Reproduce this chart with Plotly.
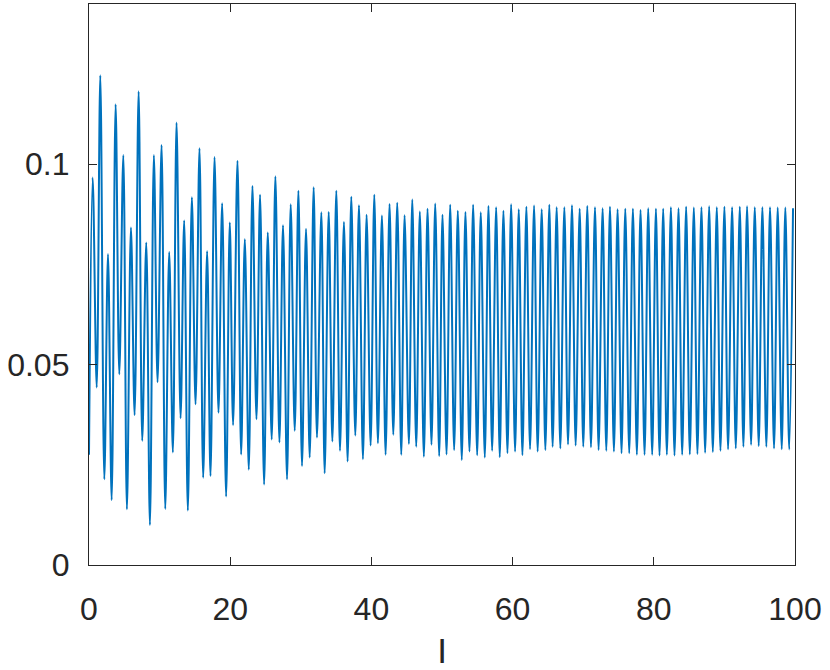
import plotly.graph_objects as go

# Local maxima of the signal (x position, value)
peak_x = [0.52, 1.6, 2.69, 3.77, 4.86, 5.94, 7.03, 8.11, 9.19, 10.28, 11.36, 12.4, 13.48, 14.57, 15.65, 16.73,
          17.78, 18.86, 19.94, 21.03, 22.07, 23.15, 24.23, 25.32, 26.4, 27.48, 28.57, 29.66, 30.74, 31.82, 32.91,
          33.95, 35.03, 36.11, 37.15, 38.24, 39.32, 40.41, 41.49, 42.57, 43.66, 44.7, 45.79, 46.86, 47.95, 49.04,
          50.07, 51.16, 52.24, 53.32, 54.41, 55.49, 56.58, 57.67, 58.70, 59.79, 60.87, 61.95, 63.04, 64.12, 65.2,
          66.24, 67.33, 68.41, 69.5, 70.58, 71.67, 72.75, 73.79, 74.87, 75.96, 77.04, 78.12, 79.21, 80.3,
          81.33, 82.42, 83.5, 84.58, 85.67, 86.75, 87.84, 88.92, 90.0, 91.09, 92.18, 93.21, 94.3, 95.38, 96.46,
          97.55, 98.63, 99.72]
peak_y = [0.0967, 0.1222, 0.0776, 0.1150, 0.1023, 0.0842, 0.1182, 0.0805, 0.1023, 0.1048, 0.0781, 0.1104, 0.0860, 0.0918, 0.1040, 0.0783,
          0.1018, 0.0903, 0.0855, 0.1009, 0.0813, 0.0946, 0.0924, 0.0830, 0.0970, 0.0848, 0.0900, 0.0934, 0.0839, 0.0943, 0.0880,
          0.0881, 0.0934, 0.0856, 0.0919, 0.0898, 0.0874, 0.0924, 0.0872, 0.0901, 0.0904, 0.0873, 0.0912, 0.0882, 0.0889, 0.0902,
          0.0874, 0.0899, 0.0884, 0.0881, 0.0899, 0.0880, 0.0896, 0.0893, 0.0884, 0.0900, 0.0888, 0.0894, 0.0897, 0.0888, 0.0899,
          0.0893, 0.0893, 0.0898, 0.0889, 0.0896, 0.0893, 0.0890, 0.0894, 0.0888, 0.0889, 0.0889, 0.0886, 0.0890, 0.0889,
          0.0889, 0.0893, 0.0890, 0.0894, 0.0892, 0.0893, 0.0895, 0.0893, 0.0894, 0.0893, 0.0894, 0.0895, 0.0893, 0.0893, 0.0893,
          0.0892, 0.0892, 0.0890]

# Local minima of the signal (first entry is the starting point)
trough_x = [0, 1.09, 2.17, 3.21, 4.29, 5.37, 6.46, 7.54, 8.63, 9.71, 10.8, 11.88, 12.97, 14.0, 15.09, 16.17,
            17.21, 18.34, 19.42, 20.41, 21.55, 22.63, 23.72, 24.8, 25.88, 26.97, 28.05, 29.14, 30.17, 31.26, 32.29, 33.38,
            34.47, 35.55, 36.63, 37.72, 38.8, 39.89, 40.92, 42.01, 43.1, 44.23, 45.31, 46.35, 47.43, 48.51, 49.6,
            50.64, 51.72, 52.8, 53.89, 54.98, 56.06, 57.1, 58.18, 59.27, 60.35, 61.39, 62.47, 63.55, 64.64,
            65.67, 66.76, 67.85, 68.93, 70.01, 71.1, 72.18, 73.27, 74.35, 75.43, 76.52, 77.6, 78.69, 79.77, 80.81,
            81.85, 82.93, 84.02, 85.1, 86.18, 87.27, 88.36, 89.44, 90.52, 91.61, 92.69, 93.78, 94.86, 95.94, 97.03,
            98.12, 99.18]
trough_y = [0.0275, 0.0443, 0.0214, 0.0162, 0.0476, 0.0139, 0.0374, 0.0310, 0.0100, 0.0456, 0.0140, 0.0281, 0.0366, 0.0136, 0.0401, 0.0218,
            0.0222, 0.0380, 0.0171, 0.0349, 0.0276, 0.0238, 0.0364, 0.0201, 0.0313, 0.0306, 0.0214, 0.0335, 0.0247, 0.0268, 0.0318, 0.0229,
            0.0308, 0.0285, 0.0258, 0.0323, 0.0264, 0.0298, 0.0304, 0.0275, 0.0325, 0.0275, 0.0302, 0.0295, 0.0270, 0.0300, 0.0272,
            0.0276, 0.0287, 0.0262, 0.0283, 0.0274, 0.0268, 0.0285, 0.0269, 0.0279, 0.0283, 0.0274, 0.0289, 0.0283, 0.0287,
            0.0295, 0.0291, 0.0301, 0.0298, 0.0295, 0.0294, 0.0287, 0.0285, 0.0283, 0.0279, 0.0279, 0.0275, 0.0275, 0.0275, 0.0273,
            0.0275, 0.0273, 0.0275, 0.0276, 0.0277, 0.0280, 0.0282, 0.0285, 0.0289, 0.0291, 0.0295, 0.0300, 0.0297, 0.0295, 0.0291,
            0.0289, 0.0288]

x_ticks = [0, 20, 40, 60, 80, 100]
y_ticks = [0, 0.05, 0.1]
y_ticktext = ["0", "0.05", "0.1"]
x_label = "I"

# Interleave minima and maxima into one ordered series
xs, ys = [], []
for tx, ty, px, py in zip(trough_x, trough_y, peak_x, peak_y):
    xs += [tx, px]
    ys += [ty, py]

AX = "#262626"
FONT = "Liberation Sans, Arial, Helvetica, sans-serif"

fig = go.Figure()
fig.add_trace(go.Scatter(
    x=xs, y=ys, mode="lines",
    line=dict(color="#0072BD", width=2, shape="spline", smoothing=1.0),
    showlegend=False, hoverinfo="skip",
))

axis_common = dict(
    showline=True, linecolor=AX, linewidth=1.3, mirror="ticks",
    ticks="inside", ticklen=8, tickwidth=1, tickcolor=AX,
    showgrid=False, zeroline=False, automargin=False,
    tickfont=dict(family=FONT, size=32, color=AX),
)

fig.update_xaxes(range=[0, 100], tickvals=x_ticks, ticktext=[str(v) for v in x_ticks],
                 ticklabelstandoff=15,
                 title=dict(text=x_label, font=dict(family=FONT, size=35, color=AX), standoff=13),
                 **axis_common)
fig.update_yaxes(range=[0, 0.14], tickvals=y_ticks, ticktext=y_ticktext,
                 ticklabelstandoff=12, **axis_common)

fig.update_layout(
    width=830, height=670,
    margin=dict(l=89, r=35, t=4, b=105, pad=0),
    paper_bgcolor="white", plot_bgcolor="white",
    font=dict(family=FONT, color=AX),
)

fig.write_html("out.html", config={"displayModeBar": False},
               post_script="document.body.style.margin='0';")
